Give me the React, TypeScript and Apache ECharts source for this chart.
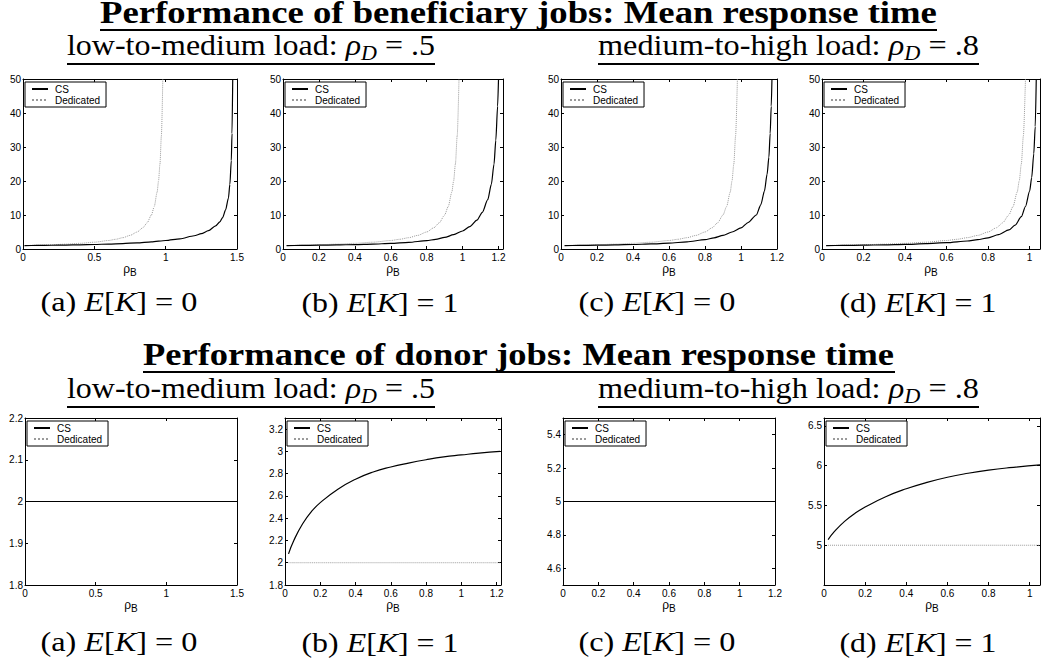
import React, { useEffect, useRef } from 'react';
import * as echarts from 'echarts';

// ---------------- data ----------------
// Beneficiary jobs: mean response time vs rho_B
const benefDedicated: [number, number][] = [
  [0.02, 1.0], [0.1, 1.11], [0.2, 1.25], [0.3, 1.43], [0.4, 1.67], [0.5, 2.0], [0.6, 2.5],
  [0.65, 2.86], [0.7, 3.33], [0.75, 4.0], [0.8, 5.0], [0.84, 6.25], [0.87, 7.7], [0.9, 10.0],
  [0.92, 12.5], [0.94, 16.7], [0.95, 20.0], [0.96, 25.0], [0.97, 33.3], [0.98, 50.0],
];
const benefA_CS: [number, number][] = [
  [0.01, 1.0], [0.1, 1.04], [0.2, 1.1], [0.3, 1.16], [0.4, 1.24], [0.5, 1.33], [0.6, 1.45],
  [0.7, 1.6], [0.8, 1.8], [0.9, 2.1], [1.0, 2.5], [1.1, 3.0], [1.2, 3.9], [1.25, 4.5],
  [1.3, 5.4], [1.35, 6.8], [1.38, 8.0], [1.4, 9.3], [1.42, 11.5], [1.44, 15.0], [1.45, 19.0],
  [1.46, 26.0], [1.465, 34.0], [1.47, 50.0],
];
const benefB_CS: [number, number][] = [
  [0.02, 1.0], [0.1, 1.05], [0.2, 1.12], [0.3, 1.2], [0.4, 1.3], [0.5, 1.45], [0.6, 1.65],
  [0.7, 1.95], [0.8, 2.45], [0.85, 2.85], [0.9, 3.4], [0.95, 4.2], [1.0, 5.3], [1.04, 6.6],
  [1.08, 8.5], [1.11, 10.8], [1.14, 14.5], [1.16, 19.0], [1.175, 25.0], [1.185, 32.0],
  [1.195, 42.0], [1.2, 50.0],
];
const benefC_CS: [number, number][] = [
  [0.02, 1.0], [0.1, 1.05], [0.2, 1.12], [0.3, 1.2], [0.4, 1.32], [0.5, 1.48], [0.6, 1.72],
  [0.7, 2.1], [0.8, 2.75], [0.85, 3.3], [0.9, 4.0], [0.95, 5.0], [1.0, 6.2], [1.04, 7.8],
  [1.085, 10.0], [1.11, 13.0], [1.13, 17.0], [1.145, 22.0], [1.155, 27.0], [1.162, 34.0],
  [1.168, 42.0], [1.172, 50.0],
];
const benefD_CS: [number, number][] = [
  [0.02, 1.0], [0.1, 1.05], [0.2, 1.12], [0.3, 1.22], [0.4, 1.36], [0.5, 1.56], [0.6, 1.85],
  [0.7, 2.35], [0.75, 2.75], [0.8, 3.3], [0.85, 4.2], [0.9, 5.6], [0.93, 7.0], [0.96, 9.5],
  [0.98, 12.5], [1.0, 17.0], [1.01, 21.0], [1.02, 28.0], [1.027, 36.0], [1.032, 50.0],
];

// Donor jobs: mean response time vs rho_B
const donorA_CS: [number, number][] = [[0.0, 2.0], [0.5, 2.0], [1.0, 2.0], [1.5, 2.0]];
const donorA_Ded: [number, number][] = [[0.0, 2.0], [0.5, 2.0], [1.0, 2.0], [1.5, 2.0]];
const donorB_CS: [number, number][] = [
  [0.02, 2.08], [0.05, 2.2], [0.1, 2.35], [0.15, 2.46], [0.2, 2.54], [0.3, 2.66], [0.4, 2.75],
  [0.5, 2.815], [0.6, 2.86], [0.7, 2.895], [0.8, 2.925], [0.9, 2.95], [1.0, 2.968], [1.1, 2.985],
  [1.22, 3.0],
];
const donorB_Ded: [number, number][] = [[0.02, 2.0], [0.6, 2.0], [1.22, 2.0]];
const donorC_CS: [number, number][] = [[0.0, 5.0], [0.6, 5.0], [1.2, 5.0]];
const donorC_Ded: [number, number][] = [[0.0, 5.0], [0.6, 5.0], [1.2, 5.0]];
const donorD_CS: [number, number][] = [
  [0.02, 5.07], [0.05, 5.17], [0.1, 5.3], [0.15, 5.4], [0.2, 5.48], [0.3, 5.61], [0.4, 5.71],
  [0.5, 5.79], [0.6, 5.855], [0.7, 5.905], [0.8, 5.945], [0.9, 5.975], [1.05, 6.01],
];
const donorD_Ded: [number, number][] = [[0.02, 5.0], [0.5, 5.0], [1.05, 5.0]];

// axis ranges
const xMax = [1.5, 1.225, 1.2, 1.05];
const xInterval = [0.5, 0.2, 0.2, 0.2];
const benefY = { min: 0, max: 50, interval: 10 };
const donorYMin = [1.8, 1.8, 4.5, 4.5];
const donorYMax = [2.2, 3.3, 5.5, 6.6];
const donorYInterval: (number | undefined)[] = [0.1, 0.2, undefined, 0.5];

// texts
const title1 = 'Performance of beneficiary jobs: Mean response time';
const title2 = 'Performance of donor jobs: Mean response time';
const loadLabels = ['low-to-medium load: ', 'medium-to-high load: '];
const loadValues = [' = .5', ' = .8'];
const captionLetters = ['(a) ', '(b) ', '(c) ', '(d) '];
const captionValues = ['] = 0', '] = 1', '] = 0', '] = 1'];

// ---------------- layout ----------------
const topBoxes = [[23, 79, 214, 170], [283, 79, 220, 170], [561, 79, 216, 170], [822, 79, 218, 170]];
const botBoxes = [[25, 418, 212, 167], [285, 418, 216, 167], [563, 418, 212, 167], [824, 418, 216, 167]];
const captionCenters = [119, 380, 657, 918];

const SERIF = 'Liberation Serif';
const SANS = 'Liberation Sans';

let mctx: CanvasRenderingContext2D | null = null;
function textWidth(s: string, size: number, italic?: boolean, bold?: boolean) {
  if (!mctx) mctx = document.createElement('canvas').getContext('2d');
  mctx!.font = `${italic ? 'italic ' : ''}${bold ? 'bold ' : ''}${size}px "${SERIF}"`;
  return mctx!.measureText(s).width;
}
type Seg = { t: string; size: number; italic?: boolean; bold?: boolean; dy?: number };
function mathLine(segs: Seg[], x0: number, w: number, cy: number) {
  const widths = segs.map((s) => textWidth(s.t, s.size, s.italic, s.bold));
  const total = widths.reduce((a, b) => a + b, 0);
  const sx = w / total;
  let acc = 0;
  return segs.map((s, i) => {
    const el = {
      type: 'text',
      x: x0 + acc * sx,
      y: cy + (s.dy || 0),
      scaleX: sx,
      silent: true,
      style: {
        text: s.t,
        fontFamily: SERIF,
        fontSize: s.size,
        fontStyle: s.italic ? 'italic' : 'normal',
        fontWeight: s.bold ? 'bold' : 'normal',
        fill: '#000',
        textAlign: 'left',
        textVerticalAlign: 'middle',
        align: 'left',
        verticalAlign: 'middle',
      },
    };
    acc += widths[i];
    return el;
  });
}
function uline(x1: number, x2: number, y: number) {
  return { type: 'line', silent: true, shape: { x1, y1: y, x2, y2: y }, style: { stroke: '#000', lineWidth: 2.2 } };
}

function buildOption() {
  const panels: any[] = [];
  const benefCS = [benefA_CS, benefB_CS, benefC_CS, benefD_CS];
  for (let i = 0; i < 4; i++) {
    panels.push({
      box: topBoxes[i], cs: benefCS[i], ded: benefDedicated, xMax: xMax[i], xInt: xInterval[i],
      yMin: benefY.min, yMax: benefY.max, yInt: benefY.interval, steep: true,
    });
  }
  const dCS = [donorA_CS, donorB_CS, donorC_CS, donorD_CS];
  const dDed = [donorA_Ded, donorB_Ded, donorC_Ded, donorD_Ded];
  for (let i = 0; i < 4; i++) {
    panels.push({
      box: botBoxes[i], cs: dCS[i], ded: dDed[i], xMax: xMax[i], xInt: xInterval[i],
      yMin: donorYMin[i], yMax: donorYMax[i], yInt: donorYInterval[i], steep: false,
    });
  }

  const grid: any[] = [];
  const xAxis: any[] = [];
  const yAxis: any[] = [];
  const series: any[] = [];
  const legend: any[] = [];
  const tickLine = { lineStyle: { color: '#000', width: 1 } };
  panels.forEach((p, i) => {
    const [left, top, width, height] = p.box;
    grid.push({ left, top, width, height, containLabel: false, outerBoundsMode: 'none' });
    const xMaxIsTick = Math.abs(p.xMax / p.xInt - Math.round(p.xMax / p.xInt)) < 1e-6;
    const yExact = p.yInt !== undefined && Math.abs((p.yMax - p.yMin) / p.yInt - Math.round((p.yMax - p.yMin) / p.yInt)) < 1e-6;
    const xBase = {
      type: 'value', gridIndex: i, min: 0, max: p.xMax, interval: p.xInt,
      axisLine: { show: true, onZero: false, ...tickLine },
      axisTick: { show: true, inside: true, length: 3, ...tickLine },
      splitLine: { show: false },
    };
    xAxis.push({
      ...xBase, position: 'bottom',
      axisLabel: { show: true, fontSize: 10, color: '#000', fontFamily: SANS, margin: 3, showMaxLabel: xMaxIsTick, showMinLabel: true },
      name: '{r|ρ}{s|B}', nameLocation: 'middle', nameGap: 8,
      nameTextStyle: {
        color: '#000',
        rich: {
          r: { fontSize: 12, fontFamily: SANS, color: '#000' },
          s: { fontSize: 10, fontFamily: SANS, color: '#000', padding: [7, 0, 0, 0] },
        },
      },
    });
    xAxis.push({ ...xBase, position: 'top', axisLabel: { show: false } });
    const yBase: any = {
      type: 'value', gridIndex: i, min: p.yMin, max: p.yMax,
      axisLine: { show: true, onZero: false, ...tickLine },
      axisTick: { show: true, inside: true, length: 3, ...tickLine },
      splitLine: { show: false },
    };
    if (p.yInt !== undefined) yBase.interval = p.yInt; else yBase.splitNumber = 5;
    const isBenef = i < 4;
    yAxis.push({
      ...yBase, position: 'left',
      axisLabel: {
        show: true, fontSize: 10, color: '#000', fontFamily: SANS, margin: 2,
        showMaxLabel: yExact, showMinLabel: isBenef || i === 4 || i === 5,
      },
    });
    yAxis.push({ ...yBase, position: 'right', axisLabel: { show: false } });

    const smoothOpts = p.steep ? { smooth: 0.25, smoothMonotone: 'x' } : { smooth: 0.5 };
    series.push({
      type: 'line', name: 'Dedicated', xAxisIndex: 2 * i, yAxisIndex: 2 * i, data: p.ded,
      symbol: 'none', showSymbol: false, ...smoothOpts, clip: true,
      lineStyle: { color: '#9a9a9a', width: 1, type: 'dotted' }, itemStyle: { color: '#9a9a9a', opacity: 0 }, z: 2,
    });
    series.push({
      type: 'line', name: 'CS', xAxisIndex: 2 * i, yAxisIndex: 2 * i, data: p.cs,
      symbol: 'none', showSymbol: false, ...smoothOpts, clip: true,
      lineStyle: { color: '#000', width: 1.2 }, itemStyle: { color: '#000', opacity: 0 }, z: 3,
    });
    legend.push({
      show: true, data: ['CS', 'Dedicated'], orient: 'vertical', left: left + 2, top: top + 3,
      itemWidth: 16, itemHeight: 8, itemGap: 1, padding: [2, 6, 2, 6],
      borderColor: '#000', borderWidth: 1, backgroundColor: '#fff', selectedMode: false,
      itemStyle: { opacity: 0 },
      textStyle: { fontSize: 10, color: '#000', fontFamily: SANS, padding: [0, 0, 0, 2] },
    });
  });

  // ----- graphic texts -----
  const g: any[] = [];
  g.push(...mathLine([{ t: title1, size: 32, bold: true }], 100, 837, 11.5));
  g.push(uline(100, 937, 30));
  g.push(...mathLine([{ t: title2, size: 32, bold: true }], 143, 752, 353.5));
  g.push(uline(143, 895, 372));
  const subX = [[67, 435], [598, 979]];
  const subY = [[45.5, 64], [388.5, 407]];
  subY.forEach(([cy, uy]) => {
    subX.forEach(([x1, x2], k) => {
      g.push(...mathLine([
        { t: loadLabels[k], size: 29 },
        { t: 'ρ', size: 29, italic: true },
        { t: 'D', size: 20, italic: true, dy: 7.5 },
        { t: loadValues[k], size: 29 },
      ], x1, x2 - x1, cy));
      g.push(uline(x1, x2, uy));
    });
  });
  const capY = [302, 642];
  capY.forEach((cy) => {
    captionCenters.forEach((cx, k) => {
      const w = 157;
      g.push(...mathLine([
        { t: captionLetters[k], size: 28 },
        { t: 'E', size: 28, italic: true },
        { t: '[', size: 28 },
        { t: 'K', size: 28, italic: true },
        { t: captionValues[k], size: 28 },
      ], cx - w / 2, w, cy));
    });
  });

  return {
    animation: false,
    backgroundColor: '#fff',
    grid, xAxis, yAxis, series, legend,
    graphic: { elements: g },
  };
}

export default function App() {
  const ref = useRef<HTMLDivElement>(null);
  useEffect(() => {
    const chart = echarts.init(ref.current!, null, { renderer: 'svg', width: 1044, height: 659 });
    chart.setOption(buildOption() as any);
    return () => chart.dispose();
  }, []);
  return (
    <div
      ref={ref}
      style={{ position: 'absolute', left: 0, top: 0, width: 1044, height: 659, background: '#fff' }}
    />
  );
}
